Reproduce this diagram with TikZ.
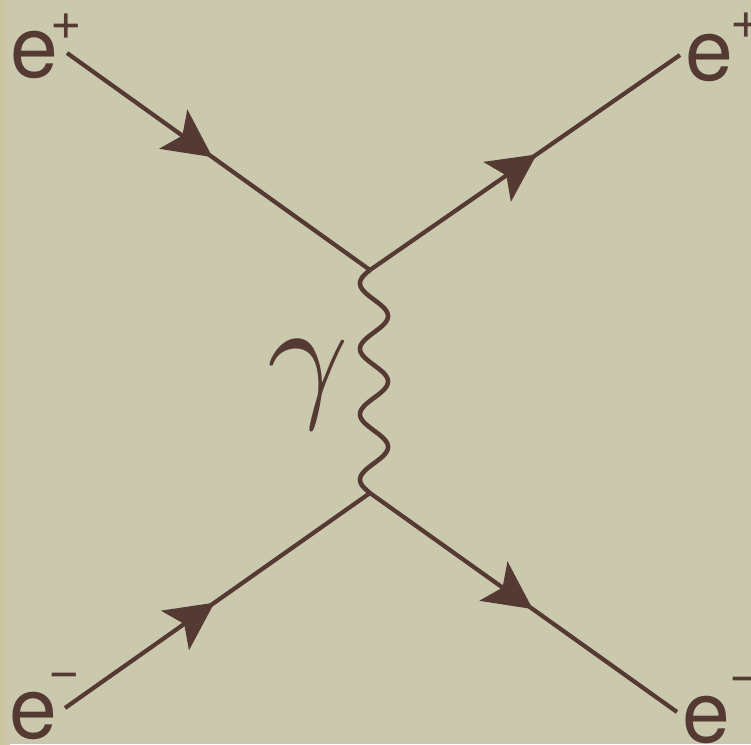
\documentclass[tikz,border=0pt]{standalone}
\usepackage{graphicx}
\usepackage{fontspec}
\setmainfont{TeX Gyre Heros}
\usetikzlibrary{arrows.meta,decorations.markings}
\definecolor{bgpaper}{RGB}{203,201,173}
\definecolor{bgedge}{RGB}{204,196,158}
\definecolor{ink}{RGB}{84,58,50}
\begin{document}
\begin{tikzpicture}[x=1pt,y=-1pt,
  fermion/.style={draw=ink,line width=4.2pt,postaction={decorate},
    decoration={markings,mark=at position #1 with {\arrow{Stealth[length=48pt,width=48pt,inset=11pt]}}}},
  photon/.style={draw=ink,line width=4.6pt,line join=round},
  elabel/.style={text=ink,inner sep=0pt,font=\fontsize{86}{86}\selectfont},
  supl/.style={text=ink,inner sep=0pt,font=\fontsize{54}{54}\selectfont},
  glabel/.style={text=ink,inner sep=0pt}]
\fill[bgpaper] (0,0) rectangle (751,744);
\shade[left color=bgedge,right color=bgpaper] (0,0) rectangle (10,744);
\useasboundingbox (0,0) rectangle (751,744);
% vertices and ends
\coordinate (tl) at (67,53);
\coordinate (tr) at (680,55);
\coordinate (bl) at (65,708);
\coordinate (br) at (677,712);
\coordinate (vt) at (370,270);
\coordinate (vb) at (370,493);
% labels
\node[elabel,anchor=base west] (e1) at (10,77) {e};
\node[supl] (e1s) at (66,27) {+};
\node[elabel,anchor=base west] (e2) at (685,80) {e};
\node[supl] (e2s) at (746,26) {+};
\node[elabel,anchor=base west] (e3) at (9,738) {e};
\node[supl] (e3s) at (64,681) {−};
\node[elabel,anchor=base west] (e4) at (682,742) {e};
\node[supl] (e4s) at (745,685) {−};
\node[glabel] (gam) at (308,385) {\scalebox{14.2}{$\gamma$}};
% fermion lines
\draw[fermion=0.48] (tl) -- (vt);
\draw[fermion=0.538] (vt) -- (tr);
\draw[fermion=0.49] (bl) -- (vb);
\draw[fermion=0.53] (vb) -- (br);
% photon
\draw[photon] plot[domain=0:223,samples=160,smooth] ({374-14*sin(16.6+\x*5.5013)},{270+\x});
\end{tikzpicture}
\end{document}
